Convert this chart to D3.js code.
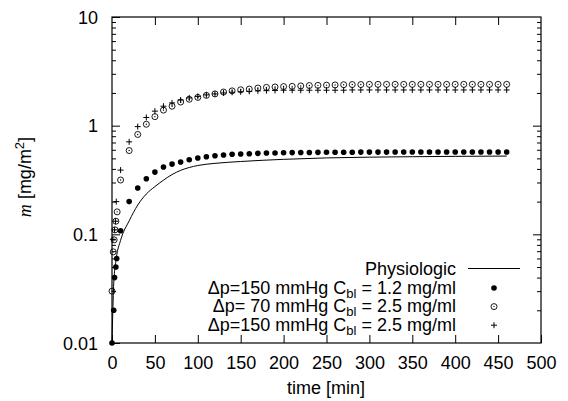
<!DOCTYPE html>
<html>
<head>
<meta charset="utf-8">
<script src="https://cdn.jsdelivr.net/npm/d3@7"></script>
<style>
  body { margin: 0; background: #fff; }
  svg { display: block; font-family: "Liberation Sans", Arial, sans-serif; font-weight: normal; }
  .tick text { font-size: 18px; fill: #000; font-family: "Liberation Sans", Arial, sans-serif; }
  .legend-text, .axis-label { font-size: 18px; font-weight: normal; fill: #000; }
</style>
</head>
<body>
<div id="wrapper"></div>
<script>
// 1. Data
const steps = [10,20,30,40,50,60,70,80,90,100,110,120,130,140,150,160,170,180,190,200,
    210,220,230,240,250,260,270,280,290,300,310,320,330,340,350,360,370,380,390,400,
    410,420,430,440,450,460]

// dp=150 mmHg, Cbl=1.2 mg/ml (filled dots)
const filledTime = [0, 2, 3, 4.5, 5.5].concat(steps)
const filledMass = [0.01, 0.02, 0.04, 0.05, 0.06,
    0.108, 0.2, 0.267, 0.325, 0.374, 0.416, 0.443, 0.463, 0.486, 0.504,
    0.518, 0.529, 0.537, 0.545, 0.548, 0.551, 0.556, 0.56, 0.561, 0.563,
    0.565, 0.566, 0.567, 0.568, 0.569, 0.57, 0.57, 0.57, 0.571, 0.571,
    0.571, 0.571, 0.572, 0.572, 0.572, 0.572, 0.572, 0.572, 0.572, 0.572,
    0.572, 0.572, 0.572, 0.572, 0.572, 0.572]

// dp=70 mmHg, Cbl=2.5 mg/ml (open circles)
const circleTime = [0, 1.5, 2.5, 3.5, 4.5, 6].concat(steps)
const circleMass = [0.03, 0.069, 0.089, 0.11, 0.132, 0.161,
    0.316, 0.59, 0.83, 1.03, 1.21, 1.39, 1.51, 1.65, 1.75, 1.82,
    1.90, 1.96, 2.04, 2.09, 2.14, 2.17, 2.22, 2.25, 2.27, 2.29,
    2.30, 2.32, 2.34, 2.35, 2.36, 2.37, 2.38, 2.39, 2.39, 2.40,
    2.40, 2.40, 2.40, 2.40, 2.40, 2.40, 2.40, 2.40, 2.40, 2.40,
    2.40, 2.40, 2.40, 2.40, 2.40, 2.40]

// dp=150 mmHg, Cbl=2.5 mg/ml (plus)
const plusTime = [1, 3, 4, 5].concat(steps)
const plusMass = [0.09, 0.11, 0.132, 0.2,
    0.39, 0.71, 0.98, 1.19, 1.36, 1.51, 1.62, 1.72, 1.80, 1.86,
    1.92, 1.96, 2.00, 2.03, 2.05, 2.07, 2.09, 2.10, 2.11, 2.12,
    2.12, 2.12, 2.12, 2.12, 2.12, 2.12, 2.12, 2.13, 2.13, 2.13,
    2.13, 2.13, 2.13, 2.13, 2.13, 2.13, 2.13, 2.13, 2.13, 2.13,
    2.13, 2.13, 2.13, 2.13, 2.13, 2.13]

// Physiologic (line)
const physTime = [0, 1, 2, 5, 10, 20, 30, 40, 50, 60, 70, 80, 90, 100, 120, 150, 200, 250, 300, 350, 400, 460]
const physMass = [0.01, 0.02, 0.035, 0.06, 0.088, 0.133, 0.186, 0.235, 0.275, 0.315, 0.355, 0.388, 0.412, 0.43,
    0.45, 0.468, 0.49, 0.505, 0.513, 0.518, 0.522, 0.525]

const xTicks = [0,50,100,150,200,250,300,350,400,450,500]
const yTicks = [0.01, 0.1, 1, 10]
const yTickLabels = ['0.01', '0.1', '1', '10']

const legendLabels = [
    {dp: 'Δp=150 mmHg C', sub: 'bl', rest: ' = 1.2 mg/ml', type: 'dot'},
    {dp: 'Δp= 70 mmHg C', sub: 'bl', rest: ' = 2.5 mg/ml', type: 'circle'},
    {dp: 'Δp=150 mmHg C', sub: 'bl', rest: ' = 2.5 mg/ml', type: 'plus'}
]

const zip = (xs, ys) => xs.map((x, i) => ({t: x, m: ys[i]}))
const xAccessor = d => d.t
const yAccessor = d => d.m

// 2. Dimensions
let dimensions = {
    width: 568,
    height: 401,
    margin: { top: 17, right: 27, bottom: 58, left: 112 }
}
dimensions.boundedWidth = dimensions.width - dimensions.margin.left - dimensions.margin.right
dimensions.boundedHeight = dimensions.height - dimensions.margin.top - dimensions.margin.bottom

// 3. Canvas
const wrapper = d3.select('#wrapper')
    .append('svg')
        .attr('width', dimensions.width)
        .attr('height', dimensions.height)

const bounds = wrapper.append('g')
    .attr('transform', `translate(${dimensions.margin.left},${dimensions.margin.top})`)

// Scales
const xScale = d3.scaleLinear()
    .domain([0, 500])
    .range([0, dimensions.boundedWidth])

const yScale = d3.scaleLog()
    .domain([0.01, 10])
    .range([dimensions.boundedHeight, 0])

// minor log ticks 2..9 in each decade
const minorY = []
yTicks.slice(0, -1).forEach(base => {
    [2,3,4,5,6,7,8,9].forEach(k => minorY.push(base * k))
})

// 5. Peripherals (inward ticks, gnuplot style)
const xAxis = bounds.append('g')
    .attr('transform', `translate(0,${dimensions.boundedHeight})`)
    .call(d3.axisBottom(xScale).tickValues(xTicks).tickSize(-8).tickPadding(13).tickFormat(d3.format('d')))
xAxis.select('.domain').remove()

const xAxisTop = bounds.append('g')
    .call(d3.axisTop(xScale).tickValues(xTicks.slice(1, -1)).tickSize(-8).tickFormat(''))
xAxisTop.select('.domain').remove()

const yAxis = bounds.append('g')
    .call(d3.axisLeft(yScale).tickValues(yTicks).tickSize(-8).tickPadding(14)
        .tickFormat((d, i) => yTickLabels[i]))
yAxis.select('.domain').remove()
yAxis.selectAll('.tick text').attr('dy', '0.35em')

const yMinor = bounds.append('g')
    .call(d3.axisLeft(yScale).tickValues(minorY).tickSize(-4).tickFormat(''))
yMinor.select('.domain').remove()

const yAxisRight = bounds.append('g')
    .attr('transform', `translate(${dimensions.boundedWidth},0)`)
    .call(d3.axisRight(yScale).tickValues(yTicks.slice(1, -1)).tickSize(-8).tickFormat(''))
yAxisRight.select('.domain').remove()

const yMinorRight = bounds.append('g')
    .attr('transform', `translate(${dimensions.boundedWidth},0)`)
    .call(d3.axisRight(yScale).tickValues(minorY).tickSize(-4).tickFormat(''))
yMinorRight.select('.domain').remove()

bounds.selectAll('.tick line').attr('stroke', '#000').attr('stroke-width', 1)

// frame
bounds.append('rect')
    .attr('width', dimensions.boundedWidth)
    .attr('height', dimensions.boundedHeight)
    .attr('fill', 'none')
    .attr('stroke', '#000')
    .attr('stroke-width', 1.2)

// axis labels
wrapper.append('text')
    .attr('class', 'axis-label')
    .attr('x', 326)
    .attr('y', 394)
    .attr('text-anchor', 'middle')
    .text('time [min]')

const yLabel = wrapper.append('text')
    .attr('class', 'axis-label')
    .attr('transform', 'translate(31,177) rotate(-90)')
    .attr('text-anchor', 'middle')
yLabel.append('tspan')
    .style('font-family', '"Liberation Serif", "Times New Roman", serif')
    .style('font-style', 'italic')
    .text('m')
yLabel.append('tspan').text(' [mg/m')
yLabel.append('tspan').attr('dy', -7).style('font-size', '13px').text('2')
yLabel.append('tspan').attr('dy', 7).text(']')

// 4. Draw data
const line = d3.line()
    .x(d => xScale(xAccessor(d)))
    .y(d => yScale(yAccessor(d)))
    .curve(d3.curveMonotoneX)

bounds.append('path')
    .datum(zip(physTime, physMass))
    .attr('d', line)
    .attr('fill', 'none')
    .attr('stroke', '#000')
    .attr('stroke-width', 1)

function drawMarker(g, type) {
    if (type === 'dot') {
        g.append('circle').attr('r', 2.8).attr('fill', '#000')
    } else if (type === 'circle') {
        g.append('circle').attr('r', 3).attr('fill', 'none').attr('stroke', '#000').attr('stroke-width', 0.9)
        g.append('circle').attr('r', 0.7).attr('fill', '#000')
    } else {
        g.append('path').attr('d', 'M-3,0H3M0,-3V3').attr('stroke', '#000').attr('stroke-width', 1)
    }
}

const seriesList = [
    {data: zip(filledTime, filledMass), type: 'dot'},
    {data: zip(circleTime, circleMass), type: 'circle'},
    {data: zip(plusTime, plusMass), type: 'plus'}
]

seriesList.forEach(s => {
    bounds.append('g').selectAll('g')
        .data(s.data)
        .enter().append('g')
            .attr('transform', d => `translate(${xScale(xAccessor(d))},${yScale(yAccessor(d))})`)
            .each(function() { drawMarker(d3.select(this), s.type) })
})

// legend
const legend = wrapper.append('g')
const legendTextX = 456
const legendMarkX = 494

legend.append('text')
    .attr('class', 'legend-text')
    .attr('x', legendTextX)
    .attr('y', 275)
    .attr('text-anchor', 'end')
    .text('Physiologic')
legend.append('line')
    .attr('x1', 468).attr('x2', 520)
    .attr('y1', 268.5).attr('y2', 268.5)
    .attr('stroke', '#000')
    .attr('stroke-width', 1)

legendLabels.forEach((item, i) => {
    const baseline = 293.5 + i * 18.6
    const t = legend.append('text')
        .attr('class', 'legend-text')
        .attr('x', legendTextX)
        .attr('y', baseline)
        .attr('text-anchor', 'end')
    t.append('tspan').text(item.dp)
    t.append('tspan').attr('dy', 4).style('font-size', '13px').text(item.sub)
    t.append('tspan').attr('dy', -4).text(item.rest)
    const g = legend.append('g')
        .attr('transform', `translate(${legendMarkX},${baseline - 5.5})`)
    drawMarker(g, item.type)
})
</script>
</body>
</html>
